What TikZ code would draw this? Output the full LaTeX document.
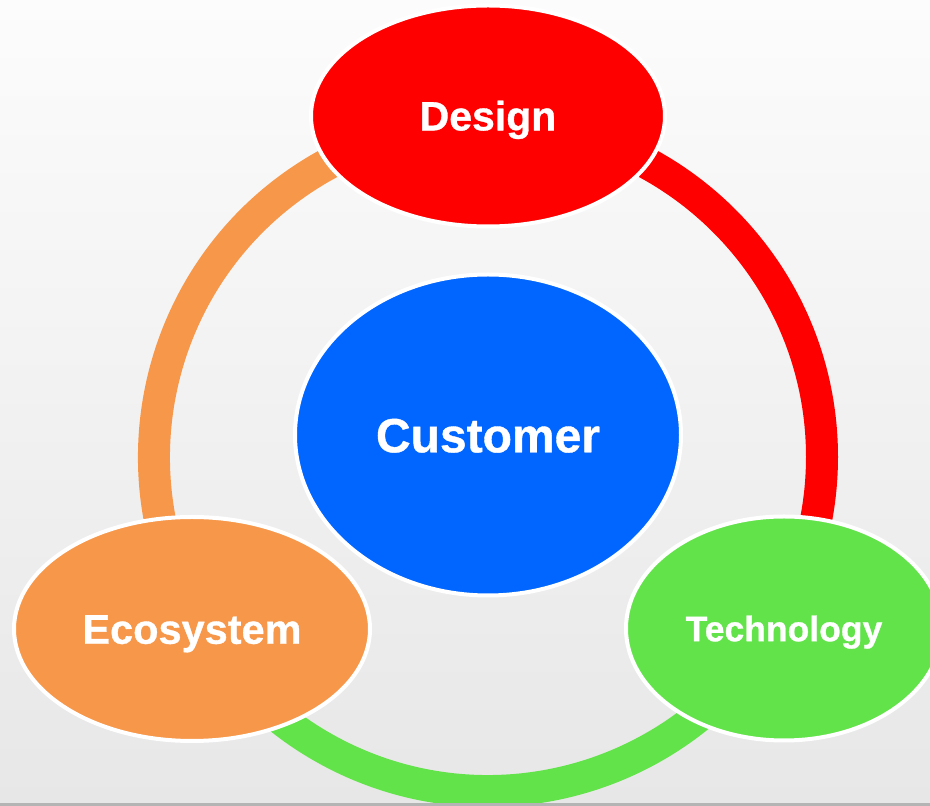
\documentclass[tikz,border=0pt]{standalone}
\usepackage{fontspec}
\setmainfont{Liberation Sans}
\newfontfamily\heavyfont[FakeBold=0.8]{Liberation Sans Bold}
\usetikzlibrary{shapes.geometric}
\definecolor{bgtop}{RGB}{252,252,252}
\definecolor{bgbot}{RGB}{231,231,231}
\definecolor{cred}{RGB}{255,0,0}
\definecolor{cblue}{RGB}{0,102,255}
\definecolor{cgreen}{RGB}{98,227,74}
\definecolor{corange}{RGB}{247,151,74}
\definecolor{rulegray}{RGB}{180,180,180}
\tikzset{
  bubble/.style={ellipse, draw=white, line width=4pt, inner sep=0pt,
    text=white, text depth=0pt},
  ringseg/.style={line width=32pt},
}
\begin{document}
\begin{tikzpicture}[x=1pt,y=1pt]
\useasboundingbox (0,0) rectangle (930,806);
\clip (0,0) rectangle (930,806);
\fill[top color=bgtop, bottom color=bgbot] (0,0) rectangle (930,806);
\coordinate (c) at (488,349);
% ring segments
\draw[ringseg, cred] ([shift={(90:334)}]c) arc[start angle=90, end angle=-30, radius=334];
\draw[ringseg, cgreen] ([shift={(-30:334)}]c) arc[start angle=-30, end angle=-150, radius=334];
\draw[ringseg, corange] ([shift={(210:334)}]c) arc[start angle=210, end angle=90, radius=334];
% bubbles
\node[bubble, fill=cred, minimum width=354pt, minimum height=221pt, text height=28.8pt, font=\heavyfont\fontsize{41}{41}\selectfont] (design) at (488,690) {Design};
\node[bubble, fill=cblue, minimum width=386pt, minimum height=321pt, text height=34.6pt, font=\heavyfont\fontsize{48}{48}\selectfont] (customer) at (488,371) {Customer};
\node[bubble, fill=corange, minimum width=356pt, minimum height=224pt, text height=29.5pt, font=\heavyfont\fontsize{41.5}{41.5}\selectfont] (eco) at (192,177) {Ecosystem};
\node[bubble, fill=cgreen, minimum width=316pt, minimum height=224pt, text height=25.5pt, font=\heavyfont\fontsize{35.5}{35.5}\selectfont] (tech) at (784,177.5) {Technology};
% bottom rule
\fill[rulegray] (0,0) rectangle (930,3);
\end{tikzpicture}
\end{document}
